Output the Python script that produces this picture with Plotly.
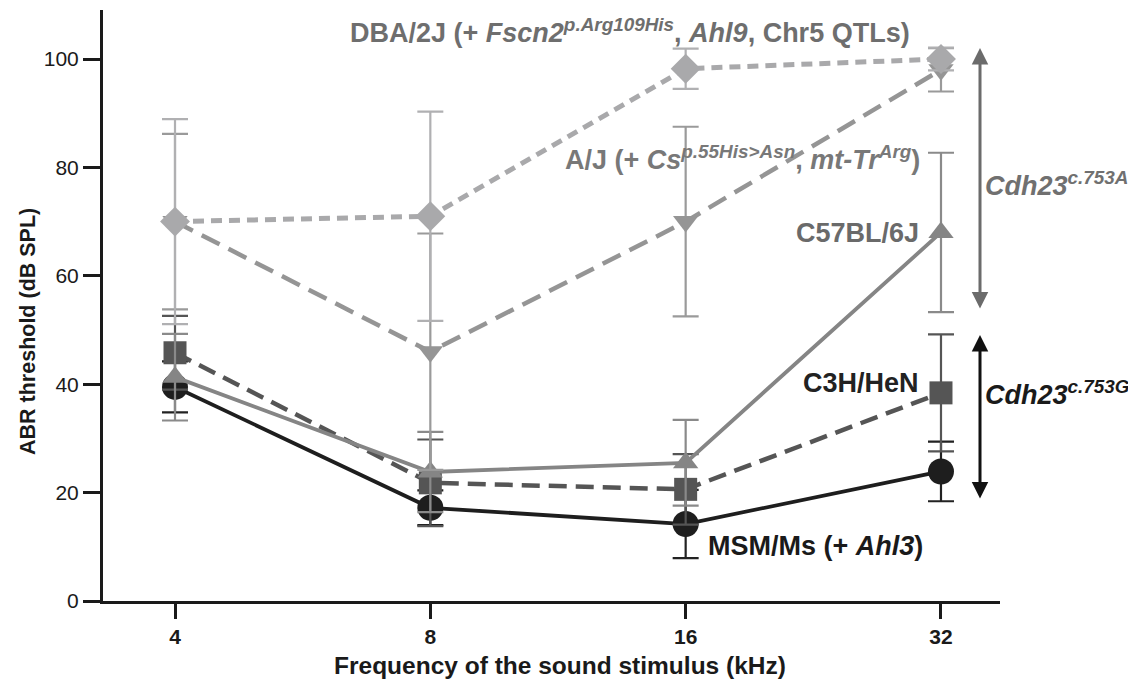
import plotly.graph_objects as go

freqs = ["4", "8", "16", "32"]

dba = [70, 71, 98.2, 100]
dba_err = [18.9, 19.3, 3.7, 2.1]

aj = [70, 46, 70, 98]
aj_err = [16.2, 21.8, 17.5, 4.0]

c57 = [41.3, 23.8, 25.5, 68]
c57_err = [8.0, 7.4, 7.9, 14.7]

c3h = [45.8, 21.8, 20.6, 38.4]
c3h_err = [6.8, 8.0, 6.5, 10.8]

msm = [39.5, 17.2, 14.2, 23.9]
msm_err = [4.7, 3.2, 6.3, 5.5]

yticks = [0, 20, 40, 60, 80, 100]

FONT = "Liberation Sans, Arial, sans-serif"
OFF = 8  # page body margin

fig = go.Figure()

def add(y, err, color, ecolor, dash, width, symbol, size, name):
    fig.add_trace(go.Scatter(
        x=freqs, y=y, name=name, mode="lines+markers",
        line=dict(color=color, width=width, dash=dash),
        marker=dict(symbol=symbol, size=size, color=color, line=dict(width=0)),
        error_y=dict(type="data", array=err, visible=True, color=ecolor,
                     thickness=2.2, width=13),
        cliponaxis=False,
    ))

add(msm, msm_err, "#1e1e1e", "#222222", "solid", 3.8, "circle", 26, "MSM/Ms")
add(c3h, c3h_err, "#555555", "#555555", "18px,9px", 4.5, "square", 23, "C3H/HeN")
add(c57, c57_err, "#858585", "#8a8a8a", "solid", 3.8, "triangle-up", 22, "C57BL/6J")
add(aj, aj_err, "#959595", "#9a9a9a", "20px,10px", 4.5, "triangle-down", 22, "A/J")
add(dba, dba_err, "#a9a9ab", "#b0b0b2", "11px,7px", 5, "diamond", 23, "DBA/2J")

ann = []
def label(text, x, y, xanchor, color, size=27):
    ann.append(dict(text=text, x=x, y=y, xref="x", yref="y", xanchor=xanchor,
                    yanchor="middle", showarrow=False,
                    font=dict(family=FONT, size=size, color=color)))

def px2y(py):
    return (601 - py) / 5.42

def px2x(pxx):
    return (pxx - 175) / 255.33

label("<b>DBA/2J (+ <i>Fscn2</i><sup><i>p.Arg109His</i></sup>, <i>Ahl9</i>, Chr5 QTLs)</b>",
      px2x(630), px2y(31), "center", "#6e6e6e")
label("<b>A/J (+ <i>Cs</i><sup><i>p.55His>Asn</i></sup>, <i>mt-Tr</i><sup><i>Arg</i></sup>)</b>",
      px2x(922), px2y(158), "right", "#787878")
label("<b>C57BL/6J</b>", px2x(921), px2y(233), "right", "#6a6a6a")
label("<b>C3H/HeN</b>", px2x(921), px2y(383), "right", "#222222")
label("<b>MSM/Ms (+ <i>Ahl3</i>)</b>", px2x(706), px2y(546), "left", "#1a1a1a")
label("<b><i>Cdh23<sup>c.753A</sup></i></b>", px2x(983), px2y(184), "left", "#707070")
label("<b><i>Cdh23<sup>c.753G</sup></i></b>", px2x(983), px2y(393), "left", "#1a1a1a")

# axis titles as annotations (paper coords)
ann.append(dict(text="<b>ABR threshold (dB SPL)</b>", xref="paper", yref="paper",
                x=(28 - 103) / 897, y=(601 - 332) / 591, textangle=-90,
                xanchor="center", yanchor="middle", showarrow=False,
                font=dict(family=FONT, size=21.5, color="#1a1a1a")))
ann.append(dict(text="<b>Frequency of the sound stimulus (kHz)</b>", xref="paper", yref="paper",
                x=(560 - 103) / 897, y=(601 - 665) / 591,
                xanchor="center", yanchor="middle", showarrow=False,
                font=dict(family=FONT, size=24.5, color="#1a1a1a")))

def darrow(y0, y1, color):
    ax_x = px2x(980)
    ann.append(dict(x=ax_x, y=y1, ax=ax_x, ay=y0, xref="x", yref="y",
                    axref="x", ayref="y", text="", showarrow=True,
                    arrowhead=2, startarrowhead=2, arrowside="end+start",
                    arrowsize=1.1, startarrowsize=1.1, arrowwidth=3,
                    arrowcolor=color))

darrow(px2y(310), px2y(48), "#6b6b6b")
darrow(px2y(500), px2y(335), "#111111")

fig.update_layout(
    width=1136 - OFF, height=688 - OFF,
    margin=dict(l=103 - OFF, r=136, t=10 - OFF, b=87),
    paper_bgcolor="white", plot_bgcolor="white",
    showlegend=False,
    annotations=ann,
    font=dict(family=FONT, color="#1a1a1a"),
    xaxis=dict(
        type="category", range=[px2x(103), px2x(1000)],
        showline=True, linewidth=3, linecolor="#1a1a1a",
        ticks="outside", ticklen=15, tickwidth=2.5, tickcolor="#1a1a1a",
        showgrid=False, zeroline=False,
        tickfont=dict(family=FONT, size=21, color="#1a1a1a"),
        tickprefix="<b>", ticksuffix="</b>",
    ),
    yaxis=dict(
        range=[0, px2y(10)],
        tickvals=yticks,
        showline=True, linewidth=3, linecolor="#1a1a1a",
        ticks="outside", ticklen=17, tickwidth=2.5, tickcolor="#1a1a1a",
        showgrid=False, zeroline=False,
        tickfont=dict(family=FONT, size=21, color="#1a1a1a"),
        tickprefix="<b>", ticksuffix="</b>",
    ),
)

fig.write_html("out.html")
